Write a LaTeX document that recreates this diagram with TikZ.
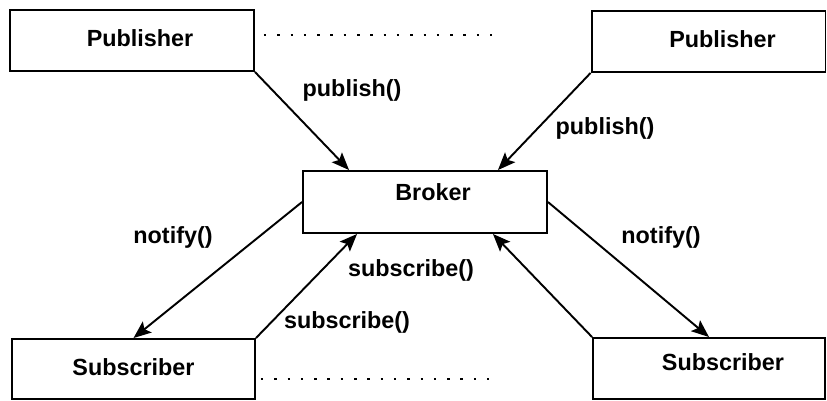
\documentclass[tikz,border=0pt]{standalone}
\usepackage{fontspec}
\setmainfont{Liberation Sans}
\usetikzlibrary{arrows.meta}

\tikzset{
  box/.style={draw, line width=1.1pt, inner sep=0pt, font=\fontsize{13.3}{15}\selectfont\bfseries},
  msg/.style={inner sep=0pt, font=\fontsize{13.3}{15}\selectfont\bfseries},
  link/.style={draw, line width=1.1pt, -{Stealth[length=10pt,width=8pt,inset=2pt]}},
  dots/.style={draw, line width=1.4pt, dash pattern=on 1.4pt off 6.17pt}
}

\begin{document}
\begin{tikzpicture}[x=0.02cm,y=-0.02cm]
\useasboundingbox (0,0) rectangle (827,401);

\node[box, minimum width=4.88cm, minimum height=1.22cm] (pubL) at (132,40.5) {\raisebox{0.08cm}{\hspace{0.32cm}Publisher}};
\node[box, minimum width=4.68cm, minimum height=1.22cm] (pubR) at (708.5,41.5) {\raisebox{0.1cm}{\hspace{0.56cm}Publisher}};
\node[box, minimum width=4.88cm, minimum height=1.24cm] (broker) at (425,202) {\raisebox{0.4cm}{\hspace{0.32cm}Broker}};
\node[box, minimum width=4.86cm, minimum height=1.2cm] (subL) at (133.5,369) {\raisebox{0.09cm}{Subscriber}};
\node[box, minimum width=4.64cm, minimum height=1.22cm] (subR) at (709,368.5) {\raisebox{0.24cm}{\hspace{0.56cm}Subscriber}};

\path[link] (pubL.south east) -- ([xshift=0.94cm]broker.north west);
\path[link] (pubR.south west) -- ([xshift=-1cm]broker.north east);
\path[link] (broker.west) -- (subL.north);
\path[link] (subL.north east) -- ([xshift=1.1cm]broker.south west);
\path[link] (broker.east) -- (subR.north);
\path[link] (subR.north west) -- ([xshift=-1.1cm]broker.south east);

\node[msg] (pub1) at (352,90) {publish()};
\node[msg] (pub2) at (605,128) {publish()};
\node[msg] (not1) at (173,237) {notify()};
\node[msg] (not2) at (661,237) {notify()};
\node[msg] (sub1) at (411,270) {subscribe()};
\node[msg] (sub2) at (347,322) {subscribe()};

\path[dots] ([xshift=0.18cm,yshift=0.11cm]pubL.east) -- ++(4.56cm,0);
\path[dots] ([xshift=0.1cm,yshift=-0.2cm]subL.east) -- ++(4.56cm,0);
\end{tikzpicture}
\end{document}
